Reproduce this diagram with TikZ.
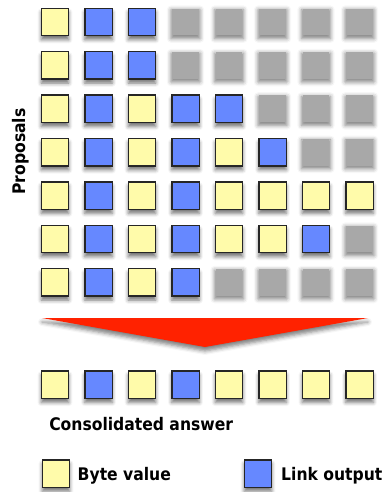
\documentclass[tikz,border=0pt]{standalone}
\usepackage{fontspec}
\newfontfamily\labelfont{DejaVu Sans Condensed}
\usetikzlibrary{calc,shadows.blur}
\definecolor{byteyellow}{HTML}{FFFBAA}
\definecolor{linkblue}{HTML}{6688FF}
\definecolor{fanred}{HTML}{FF2200}
\tikzstyle{cell} = [rectangle, inner sep=0pt, blur shadow={shadow xshift=0pt, shadow yshift=-3pt, shadow blur radius=2.8pt, shadow opacity=55}]
\tikzstyle{byte} = [cell, minimum size=20.6pt, draw=black!85, line width=1.1pt, fill=byteyellow]
\tikzstyle{link} = [cell, minimum size=20.6pt, draw=black!85, line width=1.1pt, fill=linkblue]
\tikzstyle{blank} = [rectangle, inner sep=0pt, minimum size=20pt, fill=black!34,
    blur shadow={shadow xshift=0pt, shadow yshift=-1.5pt, shadow scale=1.08, shadow blur radius=3pt, shadow opacity=50}]
\tikzstyle{caption} = [font=\labelfont\bfseries\fontsize{13}{15}\selectfont, inner sep=0pt]

\begin{document}
\begin{tikzpicture}[x=0.75pt, y=-0.75pt]
    \useasboundingbox (0,0) rectangle (382,492);
    % proposals, one row each
    \foreach \row [count=\r] in {{byte,link,link,blank,blank,blank,blank,blank},
                                 {byte,link,link,blank,blank,blank,blank,blank},
                                 {byte,link,byte,link,link,blank,blank,blank},
                                 {byte,link,byte,link,byte,link,blank,blank},
                                 {byte,link,byte,link,byte,byte,byte,byte},
                                 {byte,link,byte,link,byte,byte,link,blank},
                                 {byte,link,byte,link,blank,blank,blank,blank}}
        \foreach \kind [count=\c] in \row
            \node[\kind] (p-\r-\c) at ({55+43.5*(\c-1)}, {22+43.4*(\r-1)}) {};
    \node[caption, rotate=90, anchor=base] (proposals) at (25,151.5) {Proposals};

    % merge
    \coordinate (fan-left) at (42,318);
    \coordinate (fan-right) at (368,318);
    \coordinate (fan-tip) at (205,347);
    \fill[fanred, blur shadow={shadow xshift=0pt, shadow yshift=-3pt, shadow blur radius=3pt, shadow opacity=50}]
        (fan-left) -- (fan-right) -- (fan-tip) -- cycle;

    \foreach \kind [count=\c] in {byte,link,byte,link,byte,byte,byte,byte}
        \node[\kind] (a-\c) at ({55+43.5*(\c-1)}, 384.7) {};
    \node[caption, anchor=base west] (answer) at (49,430) {Consolidated answer};

    % key
    \node[byte] (key-byte) at (56,473.5) {};
    \node[link] (key-link) at (258,473.5) {};
    \node[caption, anchor=base west] (byte-label) at ($(key-byte.east)+(7,6.5)$) {Byte value};
    \node[caption, anchor=base west] (link-label) at ($(key-link.east)+(8.5,6.5)$) {Link output};
\end{tikzpicture}
\end{document}
